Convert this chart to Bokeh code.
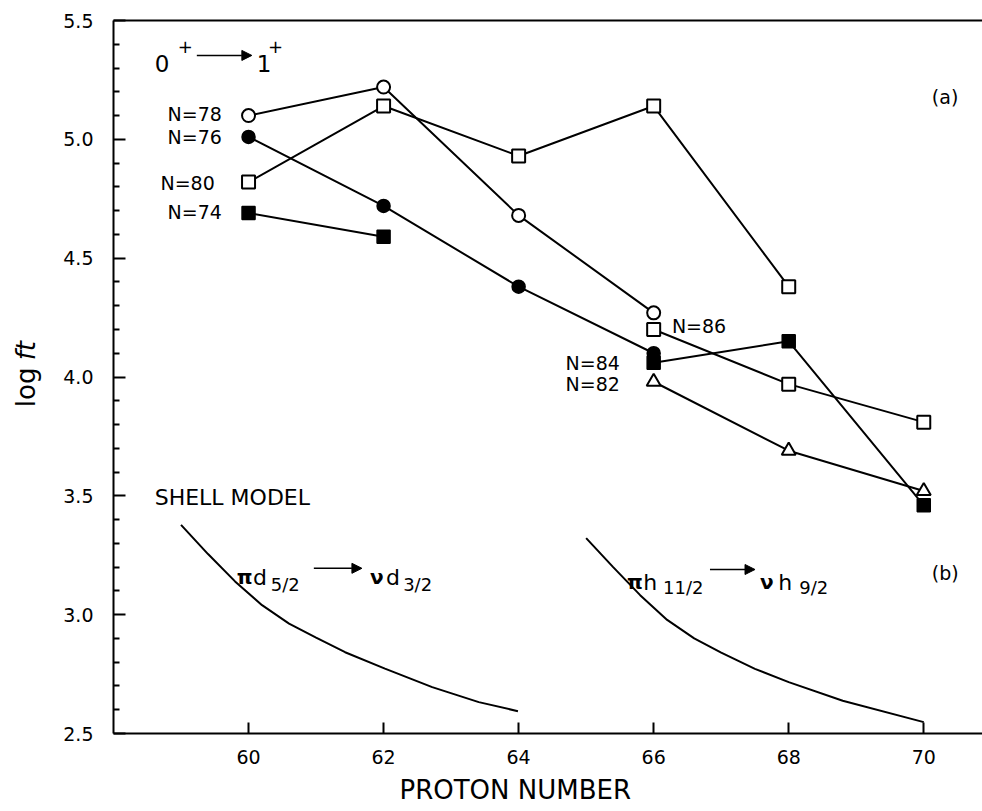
from math import pi

from bokeh.core.properties import value
from bokeh.embed import file_html
from bokeh.models import (Arrow, FixedTicker, Label, LinearAxis, NormalHead,
                          PrintfTickFormatter, Range1d)
from bokeh.plotting import figure
from bokeh.resources import INLINE

# ---- (a) measured log ft for 0+ -> 1+ transitions, by neutron number ----
z_n78 = [60, 62, 64, 66]
ft_n78 = [5.10, 5.22, 4.68, 4.27]

z_n80 = [60, 62, 64, 66, 68]
ft_n80 = [4.82, 5.14, 4.93, 5.14, 4.38]

z_n76 = [60, 62, 64, 66]
ft_n76 = [5.01, 4.72, 4.38, 4.10]

z_n74 = [60, 62]
ft_n74 = [4.69, 4.59]

z_n84 = [66, 68, 70]
ft_n84 = [4.06, 4.15, 3.46]

z_n82 = [66, 68, 70]
ft_n82 = [3.98, 3.69, 3.52]

z_n86 = [66, 68, 70]
ft_n86 = [4.20, 3.97, 3.81]

# ---- (b) shell-model estimates ----
z_d = [59.0, 59.4, 59.8, 60.2, 60.6, 61.0, 61.43, 62.02, 62.72, 63.41, 63.99]
ft_d = [3.378, 3.255, 3.140, 3.040, 2.962, 2.903, 2.842, 2.773, 2.695, 2.632, 2.594]

z_h = [65.0, 65.4, 65.8, 66.2, 66.6, 67.0, 67.5, 68.0, 68.8, 70.0]
ft_h = [3.322, 3.200, 3.082, 2.978, 2.900, 2.840, 2.772, 2.716, 2.638, 2.548]

x_ticks = [60, 62, 64, 66, 68, 70]
y_ticks = [2.5, 3.0, 3.5, 4.0, 4.5, 5.0, 5.5]
y_minor = [round(2.5 + 0.1 * i, 1) for i in range(31) if i % 5]

FONT = "DejaVu Sans"
INK = "black"

p = figure(width=982, height=811, output_backend="svg", toolbar_location=None,
           x_range=Range1d(58, 70.87), y_range=Range1d(2.5, 5.5),
           min_border_left=113, min_border_right=0, min_border_top=20,
           min_border_bottom=78, x_axis_location=None, y_axis_location=None)
p.grid.visible = False
p.outline_line_color = None
p.background_fill_color = "white"
p.border_fill_color = "white"


def style_axis(ax, tick_in, minor_in=0):
    ax.axis_line_width = 2
    ax.axis_line_color = INK
    ax.major_tick_in = tick_in
    ax.major_tick_out = 0
    ax.major_tick_line_width = 2
    ax.major_tick_line_color = INK
    ax.minor_tick_in = minor_in
    ax.minor_tick_out = 0
    ax.minor_tick_line_width = 2
    ax.minor_tick_line_color = INK if minor_in else None
    ax.major_label_text_font = FONT
    ax.major_label_text_font_size = "19px"
    ax.major_label_text_color = INK


yaxis = LinearAxis(ticker=FixedTicker(ticks=y_ticks, minor_ticks=y_minor),
                   formatter=PrintfTickFormatter(format="%.1f"))
style_axis(yaxis, 12, 6)
yaxis.major_label_standoff = 20
p.add_layout(yaxis, "left")

xaxis = LinearAxis(ticker=FixedTicker(ticks=x_ticks),
                   formatter=PrintfTickFormatter(format="%d"))
style_axis(xaxis, 11)
xaxis.major_label_standoff = 16
p.add_layout(xaxis, "below")

top = LinearAxis(ticker=FixedTicker(ticks=[]))
style_axis(top, 0)
top.major_tick_line_color = None
p.add_layout(top, "above")

# ---- connecting lines ----
for xs, ys in [(z_n78, ft_n78), (z_n80, ft_n80), (z_n76, ft_n76), (z_n74, ft_n74),
               (z_n84, ft_n84), (z_n82, ft_n82), (z_n86, ft_n86)]:
    p.line(xs, ys, line_color=INK, line_width=2)

p.line(z_d, ft_d, line_color=INK, line_width=2)
p.line(z_h, ft_h, line_color=INK, line_width=2)

# ---- markers ----
p.scatter(z_n78, ft_n78, marker="circle", size=13, fill_color="white",
          line_color=INK, line_width=2)
p.scatter(z_n76, ft_n76, marker="circle", size=13, fill_color=INK,
          line_color=INK, line_width=1.5)
for xs, ys in [(z_n80, ft_n80), (z_n86, ft_n86)]:
    p.scatter(xs, ys, marker="square", size=13, fill_color="white",
              line_color=INK, line_width=2)
p.scatter(z_n82, ft_n82, marker="triangle", size=14, fill_color="white",
          line_color=INK, line_width=2)
for xs, ys in [(z_n74, ft_n74), (z_n84, ft_n84)]:
    p.scatter(xs, ys, marker="square", size=13, fill_color=INK,
              line_color=INK, line_width=1.5)

# ---- series labels ----
p.text(x=[59.605, 59.605, 59.50, 59.605, 65.50, 65.50],
       y=[5.105, 5.009, 4.817, 4.694, 4.059, 3.971],
       text=["N=78", "N=76", "N=80", "N=74", "N=84", "N=82"],
       text_font=value(FONT), text_font_size="19px", text_color=INK,
       text_align="right", text_baseline="middle")
p.text(x=[66.27], y=[4.213], text=["N=86"],
       text_font=value(FONT), text_font_size="19px", text_color=INK,
       text_align="left", text_baseline="middle")

# panel tags and shell-model caption
p.text(x=[70.12, 70.12], y=[5.180, 3.174], text=["(a)", "(b)"],
       text_font=value(FONT), text_font_size="19px", text_color=INK,
       text_align="left", text_baseline="middle")
p.text(x=[58.61], y=[3.493], text=["SHELL MODEL"],
       text_font=value(FONT), text_font_size="22px", text_color=INK,
       text_align="left", text_baseline="middle")

# 0+ -> 1+
p.text(x=[58.612, 60.123], y=[5.319, 5.319], text=["0", "1"],
       text_font=value(FONT), text_font_size="23px", text_color=INK,
       text_align="left", text_baseline="alphabetic")
p.text(x=[58.950, 60.290], y=[5.390, 5.390], text=["+", "+"],
       text_font=value(FONT), text_font_size="18px", text_color=INK,
       text_align="left", text_baseline="alphabetic")

# orbital transitions
p.text(x=[59.827, 61.797, 65.605, 67.575], y=[3.157, 3.157, 3.136, 3.136],
       text=["π", "ν", "π", "ν"],
       text_font=value(FONT), text_font_size="20px", text_font_style="bold",
       text_color=INK, text_align="left", text_baseline="alphabetic")
p.text(x=[60.065, 62.035, 65.845, 67.845], y=[3.157, 3.157, 3.136, 3.136],
       text=["d", "d", "h", "h"],
       text_font=value(FONT), text_font_size="22px",
       text_color=INK, text_align="left", text_baseline="alphabetic")
p.text(x=[60.330, 62.290, 66.140, 68.155], y=[3.127, 3.127, 3.115, 3.115],
       text=["5/2", "3/2", "11/2", "9/2"],
       text_font=value(FONT), text_font_size="18px",
       text_color=INK, text_align="left", text_baseline="alphabetic")

for xs, xe, yy in [(59.234, 60.049, 5.353), (60.967, 61.679, 3.195),
                   (66.834, 67.501, 3.190)]:
    p.add_layout(Arrow(end=NormalHead(size=10, fill_color=INK, line_color=INK,
                                      line_width=1),
                       x_start=xs, y_start=yy, x_end=xe, y_end=yy,
                       line_color=INK, line_width=1.5))

# axis titles, placed in the side panels so they are not clipped by the frame
p.add_layout(Label(x=56.70, y=4.040, text="log", angle=pi / 2,
                   text_font=FONT, text_font_size="26px", text_color=INK,
                   text_align="right", text_baseline="middle"), "left")
p.add_layout(Label(x=56.70, y=4.070, text="ft", angle=pi / 2,
                   text_font=FONT, text_font_size="26px", text_font_style="italic",
                   text_color=INK, text_align="left", text_baseline="middle"), "left")
p.add_layout(Label(x=63.95, y=2.261, text="PROTON NUMBER",
                   text_font=FONT, text_font_size="26px", text_color=INK,
                   text_align="center", text_baseline="middle"), "below")

open("out.html", "w").write(file_html(p, INLINE))
